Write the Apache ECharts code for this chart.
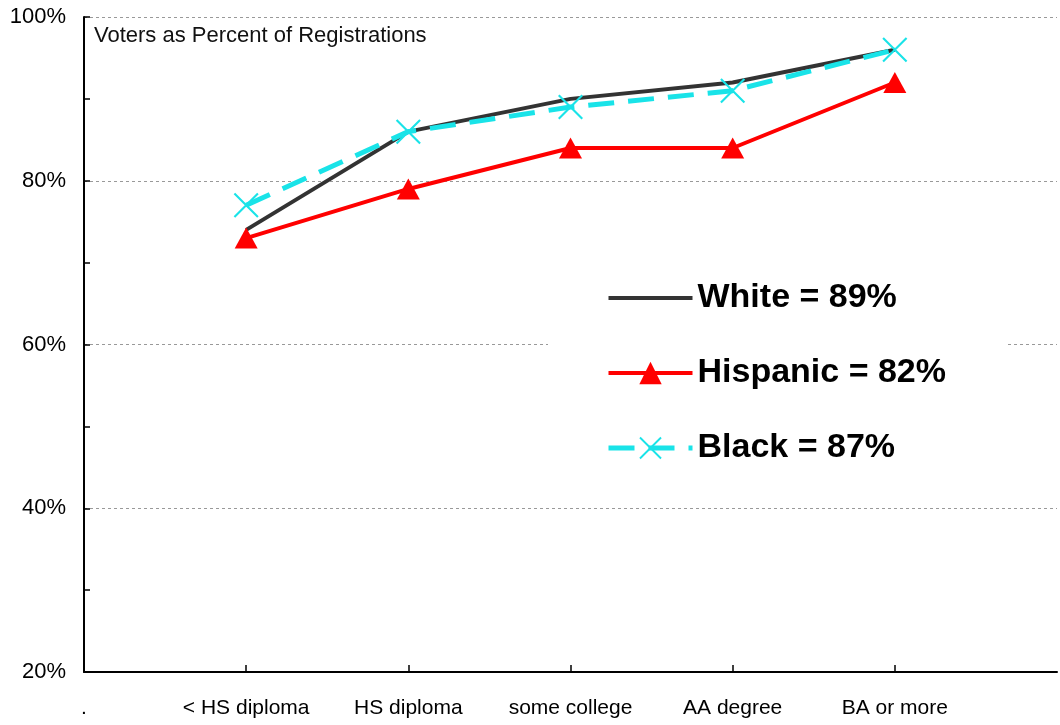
<!DOCTYPE html>
<html>
<head>
<meta charset="utf-8">
<script src="https://cdn.jsdelivr.net/npm/echarts@6/dist/echarts.min.js"></script>
<style>
html,body{margin:0;padding:0;background:#fff;}
#chart{width:1060px;height:725px;}
</style>
</head>
<body>
<div id="chart"></div>
<script>
// Categories (first entry is the axis origin, last is the empty end slot)
var categories = ['.', '< HS diploma', 'HS diploma', 'some college', 'AA degree', 'BA or more', ''];
var seriesNames = ['White', 'Hispanic', 'Black'];
var overall = [89, 82, 87];
var white = [null, 74, 86, 90, 92, 96, null];
var hispanic = [null, 73, 79, 84, 84, 92, null];
var black = [null, 77, 86, 89, 91, 96, null];
var yTicks = [20, 40, 60, 80, 100];
var chartTitle = 'Voters as Percent of Registrations';

var crossPath = 'path://M0,0.6L0.6,0L10,9.4L9.4,10ZM9.4,0L10,0.6L0.6,10L0,9.4Z';

var chart = echarts.init(document.getElementById('chart'));
chart.setOption({
  animation: false,
  backgroundColor: '#fff',
  title: {
    text: chartTitle,
    left: 89, top: 20,
    textStyle: { fontFamily: 'Liberation Sans', fontSize: 22, fontWeight: 'normal', color: '#111' }
  },
  grid: { left: 84, right: -2, top: 17, bottom: 53, containLabel: false },
  legend: {
    orient: 'vertical',
    left: 548, top: 262,
    padding: [18, 59, 18, 58],
    backgroundColor: '#fff',
    itemWidth: 84, itemHeight: 28, itemGap: 39,
    data: [
      { name: 'White', itemStyle: { color: 'rgba(0,0,0,0)', opacity: 0, borderWidth: 0 }, lineStyle: { width: 4, color: '#333' } },
      { name: 'Hispanic', lineStyle: { width: 4, color: '#f00' } },
      { name: 'Black', lineStyle: { width: 5, color: '#19e3e8', type: [26, 14] } }
    ],
    formatter: function (name) {
      return name + ' = ' + overall[seriesNames.indexOf(name)] + '%';
    },
    textStyle: { fontFamily: 'Liberation Sans', fontSize: 34, fontWeight: 'bold', color: '#000', lineHeight: 36 }
  },
  xAxis: {
    type: 'category',
    data: categories,
    boundaryGap: false,
    axisLine: { lineStyle: { color: '#000', width: 2 } },
    axisTick: {
      show: true, inside: true, length: 7,
      lineStyle: { color: '#000', width: 1.5 },
      interval: function (index) { return index >= 1 && index <= 5; }
    },
    axisLabel: {
      interval: 0, margin: 26,
      fontFamily: 'Liberation Sans', fontSize: 21, color: '#000'
    },
    splitLine: { show: false }
  },
  yAxis: {
    type: 'value',
    min: 20, max: 100, interval: 20,
    axisLine: { show: true, lineStyle: { color: '#000', width: 2 } },
    axisTick: { show: true, inside: true, length: 6, lineStyle: { color: '#000', width: 1.5 } },
    minorTick: { show: true, splitNumber: 2, length: 6, lineStyle: { color: '#000', width: 1.5 } },
    axisLabel: {
      margin: 18,
      formatter: function (v) { return yTicks.indexOf(v) >= 0 ? v + '%' : ''; },
      fontFamily: 'Liberation Sans', fontSize: 22, color: '#000'
    },
    splitLine: { show: true, lineStyle: { color: '#999', width: 1, type: [3, 3] } }
  },
  series: [
    {
      name: 'White', type: 'line', data: white,
      symbol: 'none', connectNulls: false,
      lineStyle: { color: '#333', width: 4 },
      itemStyle: { color: '#333' }
    },
    {
      name: 'Hispanic', type: 'line', data: hispanic,
      symbol: 'triangle', symbolSize: [23, 21], showAllSymbol: true,
      lineStyle: { color: '#f00', width: 4 },
      itemStyle: { color: '#f00' }
    },
    {
      name: 'Black', type: 'line', data: black,
      symbol: crossPath, symbolSize: 25, showAllSymbol: true,
      lineStyle: { color: '#19e3e8', width: 5, type: [26, 14] },
      itemStyle: { color: '#19e3e8' }
    }
  ]
});
</script>
</body>
</html>
